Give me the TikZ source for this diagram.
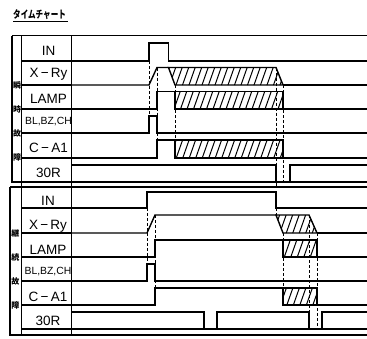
\documentclass[tikz,border=0pt]{standalone}
\usepackage{fontspec}
\setmainfont{Liberation Sans}
\newfontfamily\jpfont{Noto Sans CJK JP}
\usepackage{graphicx}
\usetikzlibrary{calc}

\begin{document}
\begin{tikzpicture}[
    x=1pt, y=-1pt,
    font=\fontsize{13.5}{15}\selectfont,
    frame/.style={line width=1.3pt, draw=black},
    signal/.style={line width=1.4pt, draw=black, line join=miter},
    guide/.style={line width=0.9pt, dash pattern=on 3pt off 2pt, draw=black},
    hatchline/.style={line width=1pt, draw=black},
    label/.style={anchor=base, inner sep=0pt},
    small/.style={anchor=base, inner sep=0pt, font=\fontsize{10.4}{12}\selectfont},
    side/.style={align=center, inner sep=0pt, font=\jpfont\bfseries\fontsize{8}{24}\selectfont}
]
\useasboundingbox (0,0) rectangle (367,338);

% title
\node[inner sep=0pt, anchor=base west] (title) at (13,18.5) {\jpfont\bfseries\scalebox{0.72}[1]{\fontsize{10.5}{11}\selectfont タイムチャート}};
\draw[line width=1pt] ([yshift=-3.2pt]title.base west) -- ([yshift=-3.2pt, xshift=1.5pt]title.base east);

% table frame
\draw[frame] (12,35.5) -- (367,35.5);
\draw[frame] (12,35.5) -- (12,182) -- (367,182);
\draw[frame] (10,187) -- (367,187);
\draw[frame] (10,187) -- (10,335) -- (367,335);
\draw[frame] (21.5,35.5) -- (21.5,335);
\draw[frame] (71.5,35.5) -- (71.5,335);
\draw[frame] (21.5,329) -- (367,329);
\draw[frame] (21.5,61) -- (71.5,61) (21.5,85) -- (71.5,85) (21.5,109) -- (71.5,109)
             (21.5,133) -- (71.5,133) (21.5,158) -- (71.5,158);
\draw[frame] (21.5,208) -- (71.5,208) (21.5,233) -- (71.5,233) (21.5,257) -- (71.5,257)
             (21.5,281) -- (71.5,281) (21.5,305) -- (71.5,305);

% section titles
\node[side] (sec1) at (17,121.5) {瞬\\時\\故\\障};
\node[side] (sec2) at (15.5,269.5) {継\\続\\故\\障};

% signal names, upper block
\node[label] (in1)   at (48.5,55)  {IN};
\node[label] (xry1)  at (48.5,77)  {X\,−\,Ry};
\node[label] (lamp1) at (48.5,103) {LAMP};
\node[small] (bl1)   at (48.5,124.5) {BL,BZ,CH};
\node[label] (ca1)   at (48.5,152) {C\,−\,A1};
\node[label] (tr1)   at (48.5,177) {30R};

% signal names, lower block
\node[label] (in2)   at (48,205)  {IN};
\node[label] (xry2)  at (48,229)  {X\,−\,Ry};
\node[label] (lamp2) at (48,254)  {LAMP};
\node[small] (bl2)   at (48,274.5) {BL,BZ,CH};
\node[label] (ca2)   at (48,301)  {C\,−\,A1};
\node[label] (tr2)   at (48,325.5) {30R};

% hatched areas
\begin{scope}
  \clip (168.5,67.5) -- (276,67.5) -- (283,85) -- (175,85) -- cycle
        (175,91.5) rectangle (283,109)
        (175,140) rectangle (283,158)
        (276,215) -- (309,215) -- (317,233) -- (283,233) -- cycle
        (283,240) rectangle (317,257)
        (283,288) rectangle (317,305);
  \foreach \hx in {60,66.5,...,320}
    \draw[hatchline] (\hx,340) -- ++(120,-340);
\end{scope}
\draw[signal] (168.5,67.5) -- (276,67.5) -- (283,85) -- (175,85) -- cycle;
\draw[signal] (175,91.5) rectangle (283,109);
\draw[signal] (175,140) rectangle (283,158);
\draw[signal] (276,215) -- (309,215) -- (317,233) -- (283,233) -- cycle;
\draw[signal] (283,240) rectangle (317,257);
\draw[signal] (283,288) rectangle (317,305);

% waveforms, instantaneous fault
\draw[signal] (71.5,61) -| (149,43) -| (168.5,61) -- (367,61);
\draw[signal] (71.5,85) -- (149,85) -- (157,67.5) -- (168.5,67.5);
\draw[signal] (283,85) -- (367,85);
\draw[signal] (71.5,109) -| (157,91.5) -- (175,91.5);
\draw[signal] (283,109) -- (367,109);
\draw[signal] (71.5,133) -| (149,116) -| (157,133) -- (367,133);
\draw[signal] (71.5,158) -| (157,140) -- (175,140);
\draw[signal] (283,158) -- (367,158);
\draw[signal] (71.5,165) -| (276,182);
\draw[signal] (290,182) |- (367,165);

\draw[guide] (149,61) -- (149,116);
\draw[guide] (157,67.5) -- (157,140);
\draw[guide] (175,85) -- (175,140);
\draw[guide] (276,67.5) -- (276,187);
\draw[guide] (283,85) -- (283,182);

% waveforms, continuous fault
\draw[signal] (71.5,208) -| (147,192) -| (276,208) -- (367,208);
\draw[signal] (71.5,233) -- (147,233) -- (155,215) -- (276,215);
\draw[signal] (317,233) -- (367,233);
\draw[signal] (71.5,257) -| (155,240) -- (283,240);
\draw[signal] (317,257) -- (367,257);
\draw[signal] (71.5,281) -| (147,264) -| (155,281) -- (367,281);
\draw[signal] (71.5,305) -| (155,288) -- (283,288);
\draw[signal] (317,305) -- (367,305);
\draw[signal] (71.5,312) -| (204,329);
\draw[signal] (217,329) |- (309,312) -- (309,329);
\draw[signal] (322,329) |- (367,312);

\draw[guide] (147,208) -- (147,264);
\draw[guide] (155,215) -- (155,288);
\draw[guide] (276,208) -- (276,215);
\draw[guide] (283,233) -- (283,288);
\draw[guide] (309,215) -- (309,312);
\draw[guide] (317,233) -- (317,329);

\end{tikzpicture}
\end{document}
